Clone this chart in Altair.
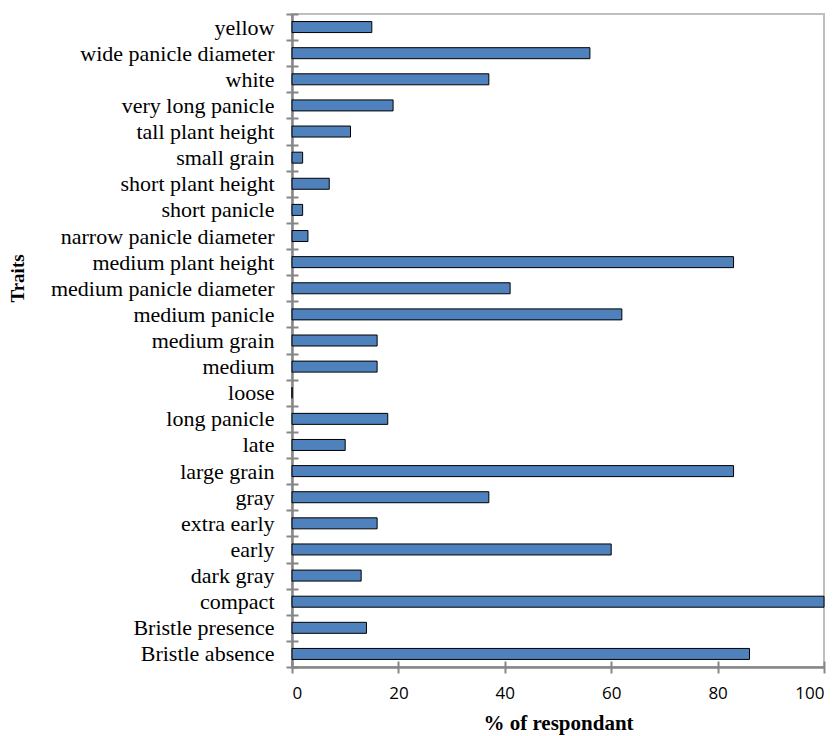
import altair as alt
import pandas as pd

traits = ["yellow", "wide  panicle diameter", "white", "very long  panicle",
          "tall plant height", "small grain", "short plant height",
          "short  panicle", "narrow panicle diameter", "medium plant height",
          "medium panicle diameter", "medium panicle", "medium grain", "medium",
          "loose", "long  panicle", "late", "large grain", "gray",
          "extra early", "early", "dark gray", "compact", "Bristle presence",
          "Bristle absence"]
percent = [15, 56, 37, 19, 11, 2, 7, 2, 3, 83, 41, 62, 16, 16, 0, 18, 10, 83,
           37, 16, 60, 13, 100, 14, 86]
x_ticks = [0, 20, 40, 60, 80, 100]

df = pd.DataFrame({"trait": traits, "pct": percent})

AX = "#868686"
SERIF = "Liberation Serif"

yscale = alt.Scale(paddingInner=0, paddingOuter=0)
xscale = alt.Scale(domain=[0, 100])

bars = alt.Chart(df).mark_bar(
    color="#4F81BD", stroke="black", strokeWidth=1, size=11
).encode(
    x=alt.X("pct:Q", scale=xscale,
            axis=alt.Axis(orient="bottom", values=x_ticks, title="% of respondant",
                          titleFont=SERIF, titleFontSize=21, titleFontWeight="bold",
                          titleColor="black", titlePadding=11,
                          labelFont="Open Sans", labelFontSize=17, labelColor="black",
                          labelPadding=12, domainColor=AX, domainWidth=2.5,
                          ticks=True, tickSize=6, tickColor=AX, tickWidth=2,
                          grid=False)),
    y=alt.Y("trait:N", sort=None, scale=yscale,
            axis=alt.Axis(orient="left", title="Traits",
                          titleFont=SERIF, titleFontSize=19, titleFontWeight="bold",
                          titleColor="black", titleX=-265, titleY=264,
                          labelFont=SERIF, labelFontSize=22, labelColor="black",
                          labelLimit=400, labelPadding=12,
                          domainColor=AX, domainWidth=2.5,
                          ticks=True, tickSize=6, tickColor=AX, tickWidth=2,
                          tickBand="extent", grid=False)),
)

inner = alt.Chart(df).mark_bar(opacity=0).encode(
    x=alt.X("pct:Q", scale=xscale,
            axis=alt.Axis(orient="bottom", values=x_ticks, offset=-6, domain=False,
                          labels=False, title=None, ticks=True, tickSize=6,
                          tickColor=AX, tickWidth=2, grid=False)),
    y=alt.Y("trait:N", sort=None, scale=yscale,
            axis=alt.Axis(orient="left", offset=-6, domain=False, labels=False,
                          title=None, ticks=True, tickSize=6, tickColor=AX,
                          tickWidth=2, tickBand="extent", grid=False)),
)

chart = alt.layer(bars, inner).resolve_axis(x="independent", y="independent").properties(
    width=532, height=653,
    autosize=alt.AutoSizeParams(type="none"),
    padding={"left": 284, "top": 6, "right": 7, "bottom": 72},
).configure_view(stroke="#BFBFBF", strokeWidth=2)

chart.save("out.html", embed_options={"renderer": "svg", "actions": False})
